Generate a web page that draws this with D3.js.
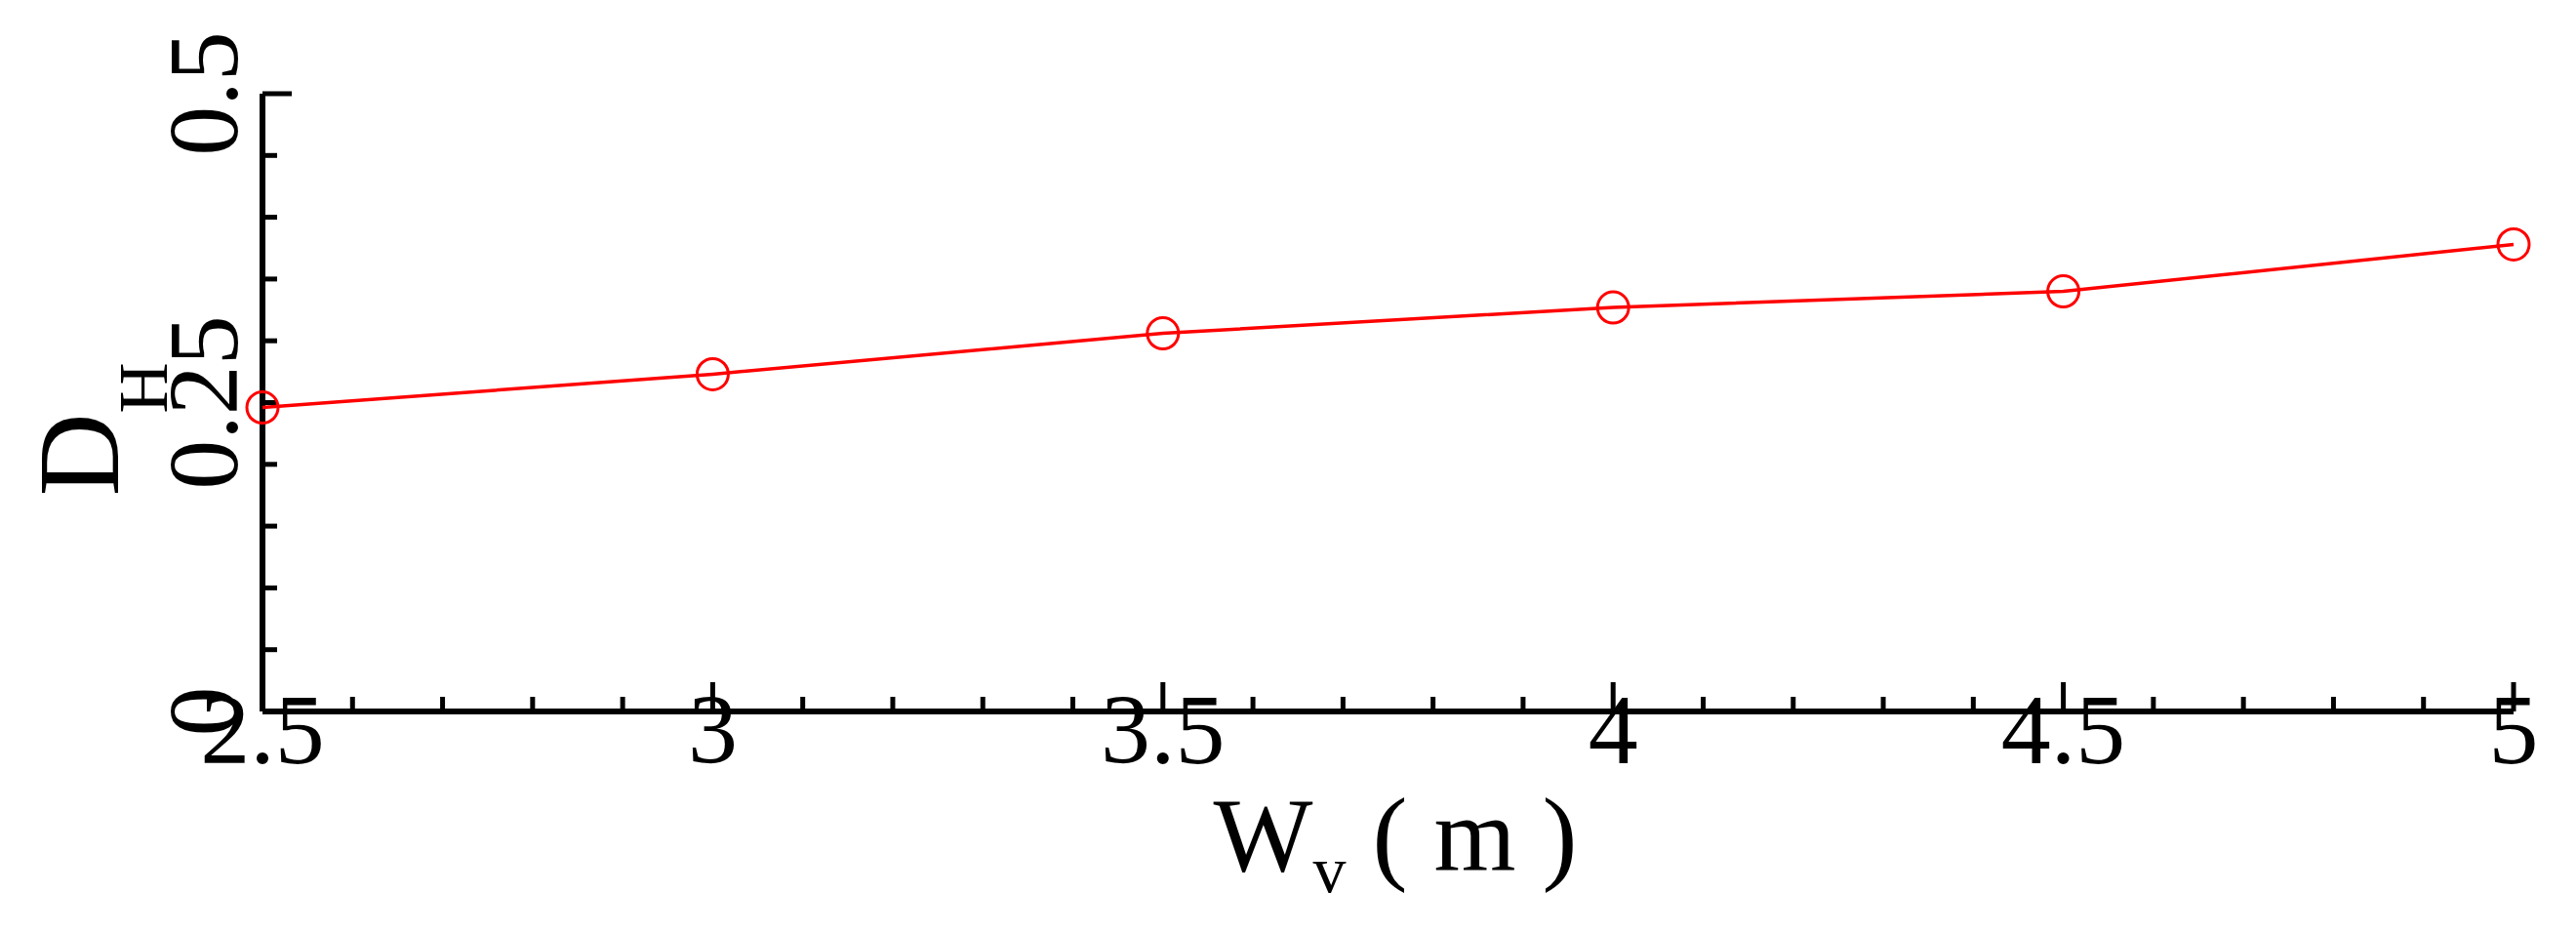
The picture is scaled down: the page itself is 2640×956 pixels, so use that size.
<!DOCTYPE html>
<html><head><meta charset="utf-8">
<script src="https://cdn.jsdelivr.net/npm/d3@7/dist/d3.min.js"></script>
<style>body{margin:0;background:#fff}</style></head>
<body><svg id="c" width="2640" height="956"></svg>
<script>
const wv = [2.5, 3, 3.5, 4, 4.5, 5];
const dh = [0.246, 0.273, 0.306, 0.327, 0.340, 0.378];
const xTicks = [2.5, 3, 3.5, 4, 4.5, 5];
const yTicks = [0, 0.25, 0.5];
const svg = d3.select("#c");
const L=269, R=2576, T=96, B=729;
const x = d3.scaleLinear().domain([2.5,5]).range([L,R]);
const y = d3.scaleLinear().domain([0,0.5]).range([B,T]);
const font = "'Liberation Serif','Times New Roman',serif";
const g = svg.append("g");
g.append("line").attr("x1",L).attr("x2",R).attr("y1",B).attr("y2",B).attr("stroke","#000").attr("stroke-width",6);
g.append("line").attr("x1",L).attr("x2",L).attr("y1",T).attr("y2",B).attr("stroke","#000").attr("stroke-width",6);
d3.range(25,51).map(v=>v/10).forEach(v=>{
  const major = Math.abs(v*2-Math.round(v*2))<1e-6;
  g.append("line").attr("x1",x(v)).attr("x2",x(v)).attr("y1",B).attr("y2",B-(major?30:15)).attr("stroke","#000").attr("stroke-width",5);
});
xTicks.forEach(v=>g.append("text").attr("x",x(v)).attr("y",782).attr("text-anchor","middle")
  .attr("font-family",font).attr("font-size",102).text(String(v)));
d3.range(0,11).map(v=>v*0.05).forEach(v=>{
  const major = [0,10].includes(Math.round(v/0.05));
  g.append("line").attr("x1",L).attr("x2",L+(major?30:15)).attr("y1",y(v)).attr("y2",y(v)).attr("stroke","#000").attr("stroke-width",5);
});
yTicks.forEach(v=>g.append("text").attr("transform",`translate(243,${y(v)}) rotate(-90)`).attr("text-anchor","middle")
  .attr("font-family",font).attr("font-size",102).text(String(v)));
const xt = g.append("text").attr("x",1430).attr("y",892).attr("text-anchor","middle").attr("font-family",font).attr("font-size",108);
xt.append("tspan").text("W");
xt.append("tspan").attr("font-size",68).attr("dy",22).text("v");
xt.append("tspan").attr("dy",-22).text(" ( m )");
const yt = g.append("text").attr("transform","translate(121,440) rotate(-90)").attr("text-anchor","middle").attr("font-family",font).attr("font-size",118);
yt.append("tspan").text("D");
yt.append("tspan").attr("font-size",72).attr("dy",50).text("H");
const pts = wv.map((v,i)=>[v,dh[i]]);
g.append("path").datum(pts).attr("fill","none").attr("stroke","#ff0000").attr("stroke-width",3.5)
  .attr("d",d3.line().x(d=>x(d[0])).y(d=>y(d[1])));
g.selectAll("circle.p").data(pts).join("circle").attr("cx",d=>x(d[0])).attr("cy",d=>y(d[1])).attr("r",16)
  .attr("fill","none").attr("stroke","#ff0000").attr("stroke-width",3);
</script></body></html>
